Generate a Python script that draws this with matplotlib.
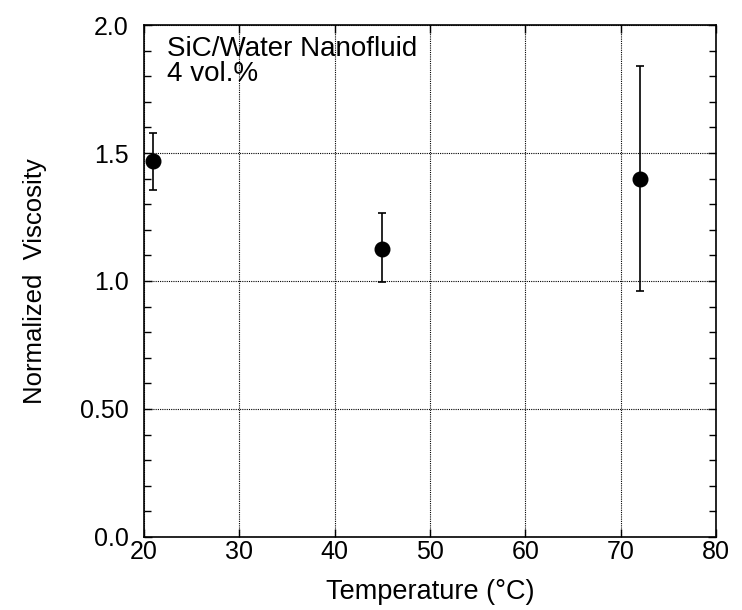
import numpy as np
import matplotlib.pyplot as plt
from matplotlib.ticker import MultipleLocator, FixedLocator, FixedFormatter

plt.rcParams['font.family'] = ['Liberation Sans', 'DejaVu Sans']

# データ
temperature = [21, 45, 72]
viscosity = [1.47, 1.126, 1.40]
err_low = [0.115, 0.13, 0.44]
err_high = [0.11, 0.138, 0.44]

y_ticks = [0.0, 0.5, 1.0, 1.5, 2.0]
y_ticklabels = ['0.0', '0.50', '1.0', '1.5', '2.0']

fig = plt.figure(figsize=(7.42, 6.1), dpi=100)
ax = fig.add_axes([0.194, 0.1197, 0.771, 0.8393])

ax.errorbar(temperature, viscosity, yerr=[err_low, err_high],
            fmt='o', color='black', markersize=10.5, capsize=3,
            elinewidth=1.2, capthick=1.2, zorder=3)

ax.set_xlim(20, 80)
ax.set_ylim(0, 2.0)
ax.xaxis.set_major_locator(MultipleLocator(10))
ax.yaxis.set_major_locator(FixedLocator(y_ticks))
ax.yaxis.set_major_formatter(FixedFormatter(y_ticklabels))
ax.yaxis.set_minor_locator(MultipleLocator(0.1))

ax.tick_params(which='both', direction='in', top=True, right=True,
               labelsize=18, width=1)
ax.tick_params(which='major', length=6)
ax.tick_params(which='minor', length=5)
ax.tick_params(axis='x', pad=2)
ax.tick_params(axis='y', pad=11)

ax.grid(True, which='major', color='black', linestyle=(0, (1, 1)), linewidth=0.8)
for s in ax.spines.values():
    s.set_linewidth(1.2)

ax.set_xlabel('Temperature (°C)', fontsize=19.5, labelpad=11)
ax.set_ylabel('Normalized  Viscosity', fontsize=18.5, labelpad=24)

ax.text(0.04, 0.978, 'SiC/Water Nanofluid\n4 vol.%', transform=ax.transAxes,
        fontsize=20, va='top', ha='left', linespacing=0.95)

fig.savefig('out.png', dpi=100)
